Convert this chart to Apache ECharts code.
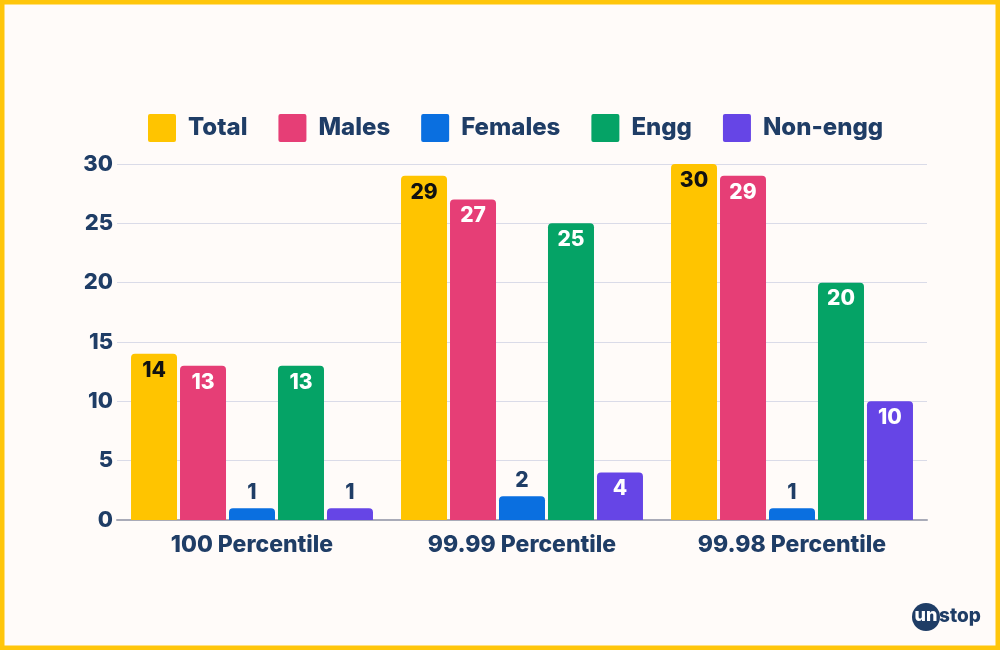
<!DOCTYPE html>
<html>
<head>
<meta charset="utf-8">
<script src="https://cdn.jsdelivr.net/npm/echarts@6/dist/echarts.min.js"></script>
<style>
  html, body { margin: 0; padding: 0; background: #fffbf9; }
  #chart { width: 1000px; height: 650px; }
</style>
</head>
<body>
<div id="chart"></div>
<script>
const categories = ['100 Percentile', '99.99 Percentile', '99.98 Percentile'];
const seriesNames = ['Total', 'Males', 'Females', 'Engg', 'Non-engg'];
const totalValues = [14, 29, 30];
const malesValues = [13, 27, 29];
const femalesValues = [1, 2, 1];
const enggValues = [13, 25, 20];
const nonEnggValues = [1, 4, 10];
const yTicks = { min: 0, max: 30, interval: 5 };

const colors = ['#FFC400', '#E63E76', '#0A6FE0', '#05A366', '#6645E6'];
const labelColors = ['#111111', '#ffffff', '#ffffff', '#ffffff', '#ffffff'];
const navy = '#1F3D66';
const fontFam = 'Inter, "Open Sans", sans-serif';

const allValues = [totalValues, malesValues, femalesValues, enggValues, nonEnggValues];

const chart = echarts.init(document.getElementById('chart'), null, { renderer: 'canvas' });

const series = allValues.map((vals, i) => ({
  name: seriesNames[i],
  type: 'bar',
  barWidth: 46,
  barGap: '6.5%',
  itemStyle: { color: colors[i], borderRadius: [4, 4, 0, 0] },
  data: vals.map(v => {
    const small = v < 3;
    return {
      value: v,
      label: {
        show: true,
        position: small ? 'top' : 'insideTop',
        distance: small ? 5 : 6,
        color: small ? navy : labelColors[i],
        fontSize: 21,
        fontWeight: 800,
        fontFamily: fontFam
      }
    };
  })
}));

chart.setOption({
  backgroundColor: '#fffbf9',
  animation: false,
  color: colors,
  legend: {
    top: 109,
    left: 143,
    itemWidth: 28,
    itemHeight: 28,
    itemGap: 31,
    icon: 'path://M2,0 H26 Q28,0 28,2 V26 Q28,28 26,28 H2 Q0,28 0,26 V2 Q0,0 2,0 Z',
    textStyle: { color: navy, fontSize: 24, fontWeight: 800, fontFamily: fontFam, padding: [0, 0, 0, 7] },
    data: seriesNames
  },
  grid: { left: 117, right: 73, top: 164, bottom: 130, containLabel: false },
  xAxis: {
    type: 'category',
    data: categories,
    axisTick: { show: false },
    axisLine: { lineStyle: { color: '#a9abb8', width: 2 } },
    axisLabel: { color: navy, fontSize: 23, fontWeight: 800, fontFamily: fontFam, margin: 14 }
  },
  yAxis: {
    type: 'value',
    min: yTicks.min,
    max: yTicks.max,
    interval: yTicks.interval,
    axisLine: { show: false },
    axisTick: { show: false },
    axisLabel: { color: navy, fontSize: 22, fontWeight: 800, fontFamily: fontFam, margin: 4 },
    splitLine: { lineStyle: { color: '#dadbe8', width: 1 } }
  },
  series: series,
  graphic: [
    {
      type: 'rect',
      shape: { x: 0, y: 0, width: 1000, height: 650 },
      style: { fill: 'none', stroke: '#FFC60B', lineWidth: 9 },
      silent: true
    },
    {
      type: 'circle',
      shape: { cx: 926, cy: 617, r: 14 },
      style: { fill: '#1F3D66' }
    },
    {
      type: 'text',
      style: { text: 'un', x: 926, y: 616, fill: '#ffffff', font: '800 18px ' + fontFam, align: 'center', verticalAlign: 'middle' }
    },
    {
      type: 'text',
      style: { text: 'stop', x: 939, y: 616, fill: '#1F3D66', font: '800 19px ' + fontFam, align: 'left', verticalAlign: 'middle' }
    }
  ]
});
</script>
</body>
</html>
